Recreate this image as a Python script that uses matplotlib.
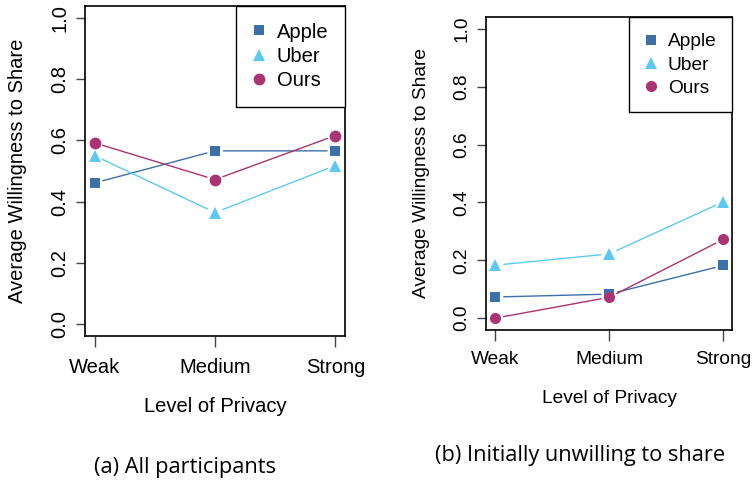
import matplotlib
matplotlib.use('Agg')
import matplotlib.pyplot as plt

plt.rcParams['font.family'] = 'Liberation Sans'

levels = ['Weak', 'Medium', 'Strong']
series_names = ['Apple', 'Uber', 'Ours']

# (a) all participants
apple_all = [0.461, 0.566, 0.566]
uber_all = [0.550, 0.364, 0.518]
ours_all = [0.592, 0.472, 0.616]

# (b) initially unwilling to share
apple_unw = [0.073, 0.083, 0.182]
uber_unw = [0.183, 0.222, 0.402]
ours_unw = [0.000, 0.072, 0.272]

y_ticks = [0.0, 0.2, 0.4, 0.6, 0.8, 1.0]

colors = ['#3b70a9', '#5ccaf0', '#aa3373']
markers = ['s', '^', 'o']


def draw_panel(ax, data, fs, msizes, xlabpad, legspace):
    xs = [1, 2, 3]
    for vals, c, m, ms, name in zip(data, colors, markers, msizes, series_names):
        # type "b" style: segments with a gap around each point
        for i in range(len(xs) - 1):
            ax.annotate('', xy=(xs[i + 1], vals[i + 1]), xytext=(xs[i], vals[i]),
                        arrowprops=dict(arrowstyle='-', color=c, lw=1.0,
                                        shrinkA=6, shrinkB=6))
        ax.plot(xs, vals, linestyle='none', marker=m, markersize=ms,
                color=c, markeredgewidth=0, label=name)
    ax.set_xlim(0.92, 3.08)
    ax.set_ylim(-0.04, 1.04)
    ax.set_xticks(xs)
    ax.set_xticklabels(levels, fontsize=fs)
    ax.set_yticks(y_ticks)
    ax.set_yticklabels([f'{t:.1f}' for t in y_ticks], fontsize=fs,
                       rotation=90, va='center')
    ax.tick_params(axis='x', length=8, width=1, color='#444444', pad=7.5)
    ax.tick_params(axis='y', length=6.5, width=1, color='#444444', pad=5)
    for s in ax.spines.values():
        s.set_linewidth(1.2)
    ax.set_xlabel('Level of Privacy', fontsize=fs, labelpad=xlabpad)
    ax.set_ylabel('Average Willingness to Share', fontsize=fs, labelpad=16.5)
    leg = ax.legend(loc='upper right', fontsize=fs, borderaxespad=0,
                    fancybox=False, edgecolor='black', framealpha=1,
                    handlelength=0.6, handletextpad=0.6, labelspacing=legspace,
                    borderpad=0.82)
    leg.get_frame().set_linewidth(1.0)


fig = plt.figure(figsize=(7.53, 4.83), dpi=100)
ax1 = fig.add_axes([0.1129, 0.3043, 0.3453, 0.6833])
ax2 = fig.add_axes([0.6458, 0.3174, 0.3267, 0.6468])

draw_panel(ax1, [apple_all, uber_all, ours_all], 14.5, [7.5, 9, 8.5], 15, 0.27)
draw_panel(ax2, [apple_unw, uber_unw, ours_unw], 13.8, [7, 8.5, 8], 15.5, 0.3)

cap_fs = 15.7
fig.text(185 / 753, 1 - 467 / 483, '(a) All participants', fontsize=cap_fs,
         family='Open Sans', ha='center', va='center')
fig.text(580 / 753, 1 - 455 / 483, '(b) Initially unwilling to share',
         fontsize=cap_fs, family='Open Sans', ha='center', va='center')

fig.savefig('out.png', dpi=100)
